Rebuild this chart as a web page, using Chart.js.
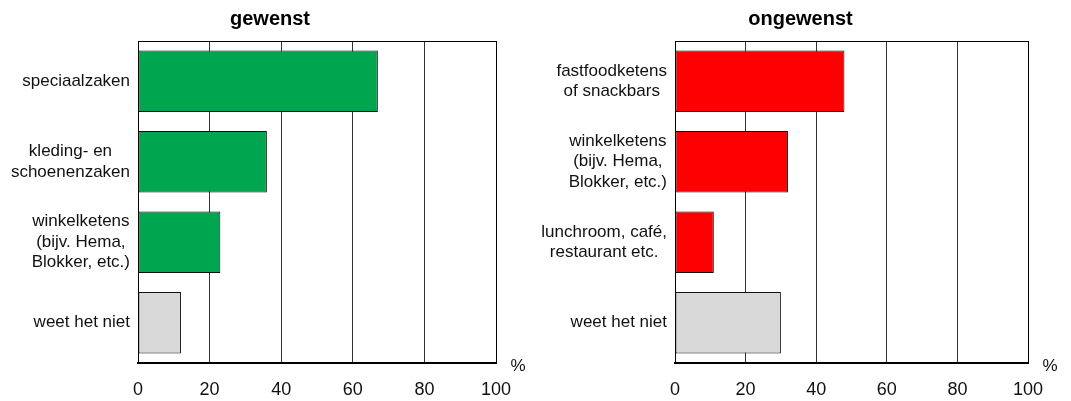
<!DOCTYPE html>
<html><head><meta charset="utf-8">
<script src="https://cdn.jsdelivr.net/npm/chart.js@4"></script>
<style>
html,body{margin:0;padding:0;background:#fff;}
body{width:1071px;height:401px;position:relative;overflow:hidden;}
.c{position:absolute;top:0;height:401px;}
</style></head><body>
<div class="c" style="left:0;width:540px"><canvas id="c1"></canvas></div>
<div class="c" style="left:530px;width:541px"><canvas id="c2"></canvas></div>
<script>
const titleLeft = 'gewenst';
const titleRight = 'ongewenst';
const categoriesLeft = [['speciaalzaken'], ['kleding- en', 'schoenenzaken'], ['winkelketens', '(bijv. Hema,', 'Blokker, etc.)'], ['weet het niet']];
const valuesLeft = [67, 36, 23, 12];
const categoriesRight = [['fastfoodketens', 'of snackbars'], ['winkelketens', '(bijv. Hema,', 'Blokker, etc.)'], ['lunchroom, café,', 'restaurant etc.'], ['weet het niet']];
const valuesRight = [48, 32, 11, 30];
const xTicks = [0, 20, 40, 60, 80, 100];
const unitLabel = '%';

const FONT = '"Liberation Sans", Arial, Helvetica, sans-serif';
Chart.defaults.font.family = FONT;
Chart.defaults.color = '#111';

const GREEN = '#00A550', RED = '#FF0000', GREY = '#D9D9D9';

const labelPlugin = {
  id: 'labelPlugin',
  afterDraw(chart, args, opts) {
    const ctx = chart.ctx, area = chart.chartArea, ys = chart.scales.y;
    ctx.save();
    // title, centred on the whole canvas
    ctx.font = 'bold 20px ' + FONT;
    ctx.fillStyle = '#000';
    ctx.textAlign = 'center';
    ctx.textBaseline = 'middle';
    ctx.fillText(opts.title, chart.width / 2, 19);
    // category labels: block right-aligned to the axis, lines centred
    ctx.font = '17px ' + FONT;
    ctx.fillStyle = '#111';
    const lh = 20.5;
    chart.data.labels.forEach((lab, i) => {
      const lines = Array.isArray(lab) ? lab : [lab];
      const w = Math.max(...lines.map(l => ctx.measureText(l).width));
      const cx = area.left - 8 - w / 2;
      const cy = ys.getPixelForValue(i);
      lines.forEach((l, j) => ctx.fillText(l, cx, cy + (j - (lines.length - 1) / 2) * lh));
    });
    ctx.fillText(unitLabel, area.right + 22, area.bottom + 3);
    // top frame line
    ctx.strokeStyle = '#000';
    ctx.lineWidth = 1;
    ctx.beginPath();
    ctx.moveTo(area.left, area.top + 0.5);
    ctx.lineTo(area.right + 1, area.top + 0.5);
    ctx.stroke();
    ctx.restore();
  }
};

function make(id, title, cats, vals, colors, yWidth, padRight) {
  return new Chart(document.getElementById(id), {
    type: 'bar',
    data: {
      labels: cats,
      datasets: [{
        data: vals,
        backgroundColor: colors,
        borderColor: '#111',
        borderWidth: 1,
        borderSkipped: false,
        categoryPercentage: 1,
        barPercentage: 0.765
      }]
    },
    options: {
      indexAxis: 'y',
      responsive: true,
      maintainAspectRatio: false,
      animation: false,
      devicePixelRatio: 1,
      layout: { padding: { left: 0, right: padRight, top: 41, bottom: 0 } },
      plugins: {
        legend: { display: false },
        tooltip: { enabled: false },
        title: { display: false },
        labelPlugin: { title: title }
      },
      scales: {
        x: {
          type: 'linear', min: 0, max: 100, position: 'bottom',
          afterBuildTicks: s => { s.ticks = xTicks.map(v => ({ value: v })); },
          grid: {
            drawTicks: false, lineWidth: 1,
            color: c => (c.tick && (c.tick.value === 0 || c.tick.value === 100)) ? '#000' : '#333'
          },
          border: { display: true, color: '#000', width: 2 },
          ticks: { font: { size: 18 }, color: '#111', padding: 16, maxRotation: 0 },
          afterFit: s => { s.height = 38; }
        },
        y: {
          type: 'category',
          grid: { display: false },
          border: { display: true, color: '#000', width: 1 },
          ticks: { display: false },
          afterFit: s => { s.width = yWidth; }
        }
      }
    },
    plugins: [labelPlugin]
  });
}

make('c1', titleLeft, categoriesLeft, valuesLeft, [GREEN, GREEN, GREEN, GREY], 138, 44);
make('c2', titleRight, categoriesRight, valuesRight, [RED, RED, RED, GREY], 145, 43);
</script>
</body></html>
